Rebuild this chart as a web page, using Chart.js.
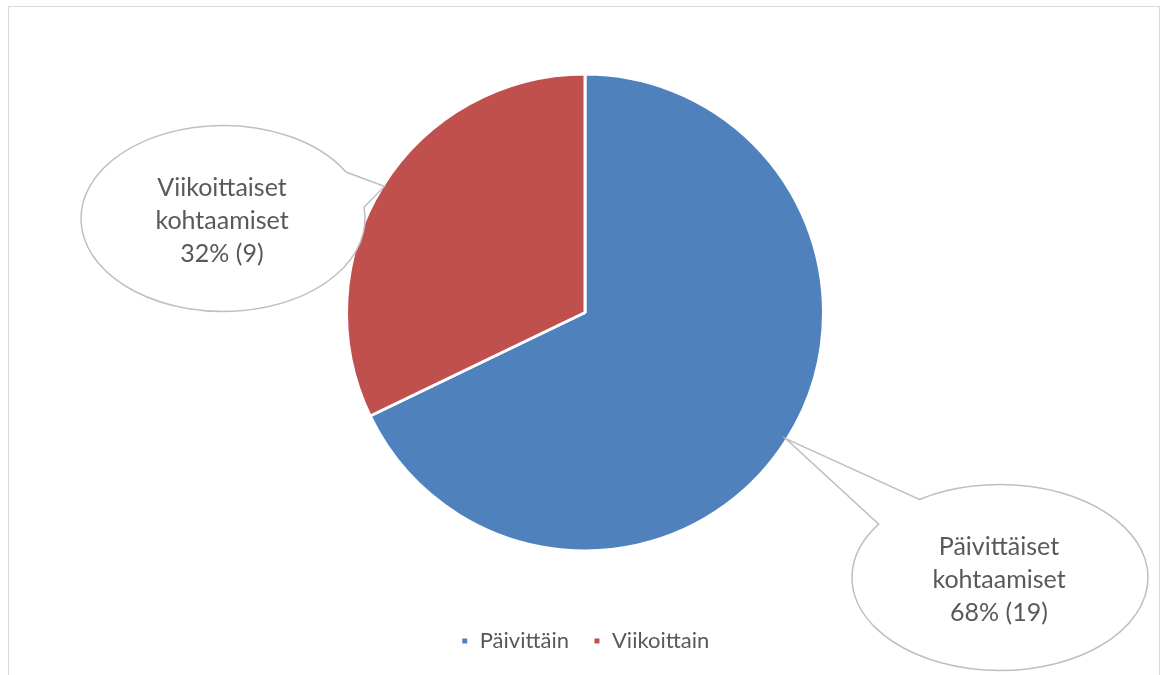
<!DOCTYPE html>
<html>
<head>
<meta charset="utf-8">
<script src="https://cdn.jsdelivr.net/npm/chart.js@4.4.1/dist/chart.umd.min.js"></script>
<style>
  html, body { margin: 0; padding: 0; background: #ffffff; }
  #wrap { width: 1164px; height: 675px; position: relative; }
</style>
</head>
<body>
<div id="wrap"><canvas id="chart" width="1164" height="675"></canvas></div>
<script>
// Tapaamisten tiheys
const categories = ['Päivittäin', 'Viikoittain'];
const values = [19, 9];
const calloutLines = [
  ['Päivittäiset', 'kohtaamiset'],
  ['Viikoittaiset', 'kohtaamiset']
];
const colors = ['#4F81BD', '#C0504D'];

const FONT = 'Lato, "Open Sans", sans-serif';
const TEXT = '#595959';

// Puhekuplat: sijainti suhteessa ympyrän keskipisteeseen, ellipsin säteet
// sekä kiinnityskohdat ellipsin kehällä (kulmat asteina)
const bubbles = [
  { dx: 415, dy: 265, rx: 148, ry: 93, a1: -123, a2: -145 },
  { dx: -362, dy: -94, rx: 142, ry: 93, a1: -7, a2: -30 }
];

const frame = {
  id: 'frame',
  beforeDraw(chart) {
    const c = chart.ctx;
    c.save();
    c.fillStyle = '#ffffff';
    c.fillRect(0, 0, chart.width, chart.height);
    c.strokeStyle = '#d9d9d9';
    c.lineWidth = 1;
    c.strokeRect(8.5, 6.5, 1151, 720);
    c.restore();
  }
};

const callouts = {
  id: 'callouts',
  afterDatasetsDraw(chart) {
    const c = chart.ctx;
    const meta = chart.getDatasetMeta(0);
    const total = values.reduce((s, v) => s + v, 0);
    meta.data.forEach((arc, i) => {
      const p = arc.getProps(['x', 'y', 'startAngle', 'endAngle', 'outerRadius'], true);
      const mid = (p.startAngle + p.endAngle) / 2;
      const tipX = p.x + Math.cos(mid) * (p.outerRadius - 1.5);
      const tipY = p.y + Math.sin(mid) * (p.outerRadius - 1.5);
      const b = bubbles[i];
      const cx = p.x + b.dx, cy = p.y + b.dy;
      const t1 = b.a1 * Math.PI / 180;
      const t2 = b.a2 * Math.PI / 180 + Math.PI * 2;
      c.save();
      c.beginPath();
      c.moveTo(cx + b.rx * Math.cos(t1), cy + b.ry * Math.sin(t1));
      c.ellipse(cx, cy, b.rx, b.ry, 0, t1, t2, false);
      c.lineTo(tipX, tipY);
      c.closePath();
      c.fillStyle = '#ffffff';
      c.fill();
      c.strokeStyle = '#bfbfbf';
      c.lineWidth = 1.5;
      c.stroke();

      const pct = Math.round(values[i] / total * 100);
      const lines = calloutLines[i].concat([pct + '% (' + values[i] + ')']);
      c.fillStyle = TEXT;
      c.font = '25px ' + FONT;
      c.textAlign = 'center';
      c.textBaseline = 'alphabetic';
      lines.forEach((ln, k) => {
        c.fillText(ln, cx - 1, cy - 23 + k * 33);
      });
      c.restore();
    });
  }
};

new Chart(document.getElementById('chart'), {
  type: 'pie',
  data: {
    labels: categories,
    datasets: [{
      data: values,
      backgroundColor: colors,
      borderColor: '#ffffff',
      borderWidth: 3,
      hoverOffset: 0
    }]
  },
  options: {
    responsive: false,
    animation: false,
    radius: 238.5,
    layout: { padding: { top: 19, bottom: 13, left: 6, right: 0 } },
    plugins: {
      legend: {
        position: 'bottom',
        labels: {
          color: TEXT,
          font: { family: FONT, size: 22 },
          boxWidth: 8,
          boxHeight: 8,
          padding: 24
        }
      },
      tooltip: { enabled: false }
    }
  },
  plugins: [frame, callouts]
});
</script>
</body>
</html>
